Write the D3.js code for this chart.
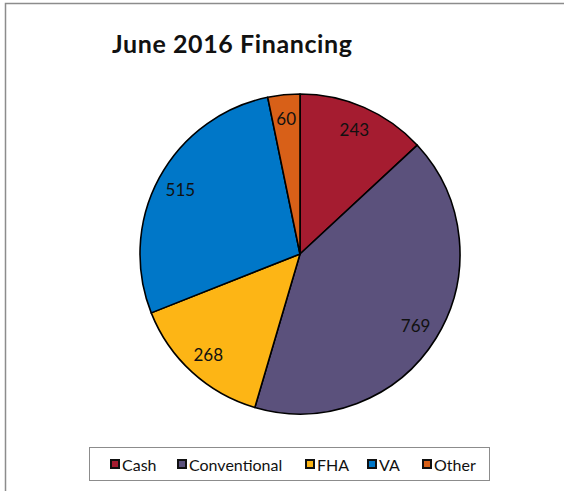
<!DOCTYPE html>
<html>
<head>
<meta charset="utf-8">
<script src="https://cdn.jsdelivr.net/npm/d3@7"></script>
<style>
  html, body { margin: 0; padding: 0; background: #fff; }
  svg { display: block; }
</style>
</head>
<body>
<svg id="chart" width="564" height="491"></svg>
<script>
// Financing mix for June 2016
const categories = ["Cash", "Conventional", "FHA", "VA", "Other"];
const values = [243, 769, 268, 515, 60];
const colors = ["#A51C30", "#5B517C", "#FDB515", "#0077C8", "#D86018"];
const title = "June 2016 Financing";

const svg = d3.select("#chart");

// outer chart frame
svg.append("rect")
  .attr("x", 5.5).attr("y", 3.5)
  .attr("width", 600).attr("height", 600)
  .attr("fill", "#fff")
  .attr("stroke", "#8c8c8c").attr("stroke-width", 1.5);

svg.append("text")
  .attr("x", 112).attr("y", 53)
  .attr("font-family", "Lato, 'Open Sans', sans-serif")
  .attr("font-weight", "bold")
  .attr("font-size", 25)
  .attr("letter-spacing", 0.6)
  .attr("fill", "#111")
  .text(title);

const cx = 300, cy = 254, r = 160;
const data = categories.map((c, i) => ({ name: c, value: values[i], color: colors[i] }));

const pie = d3.pie().value(d => d.value).sort(null);
const arcs = pie(data);
const arc = d3.arc().innerRadius(0).outerRadius(r);
const labelArc = d3.arc().innerRadius(136).outerRadius(136);

const g = svg.append("g").attr("transform", `translate(${cx},${cy})`);

g.selectAll("path.slice")
  .data(arcs)
  .join("path")
  .attr("class", "slice")
  .attr("d", arc)
  .attr("fill", d => d.data.color)
  .attr("stroke", "#000")
  .attr("stroke-width", 1.6)
  .attr("stroke-linejoin", "round");

g.selectAll("text.val")
  .data(arcs)
  .join("text")
  .attr("class", "val")
  .attr("transform", d => `translate(${labelArc.centroid(d)})`)
  .attr("text-anchor", "middle")
  .attr("dominant-baseline", "central")
  .attr("font-family", "Lato, 'Open Sans', sans-serif")
  .attr("font-size", 17)
  .attr("fill", "#111")
  .text(d => d.data.value);

// legend
const legend = svg.append("g");
legend.append("rect")
  .attr("x", 89.5).attr("y", 447.5)
  .attr("width", 400).attr("height", 33)
  .attr("fill", "#fff")
  .attr("stroke", "#8c8c8c").attr("stroke-width", 1);

const legendX = [110, 177, 305, 367, 422];
const items = legend.selectAll("g.item")
  .data(data)
  .join("g")
  .attr("class", "item")
  .attr("transform", (d, i) => `translate(${legendX[i]},464)`);

items.append("rect")
  .attr("x", 1).attr("y", -4)
  .attr("width", 8).attr("height", 8)
  .attr("fill", d => d.color)
  .attr("stroke", "#111").attr("stroke-width", 2);

items.append("text")
  .attr("x", 12).attr("y", 0.5)
  .attr("dominant-baseline", "central")
  .attr("font-family", "Lato, 'Open Sans', sans-serif")
  .attr("font-size", 16)
  .attr("fill", "#111")
  .text(d => d.name);
</script>
</body>
</html>
